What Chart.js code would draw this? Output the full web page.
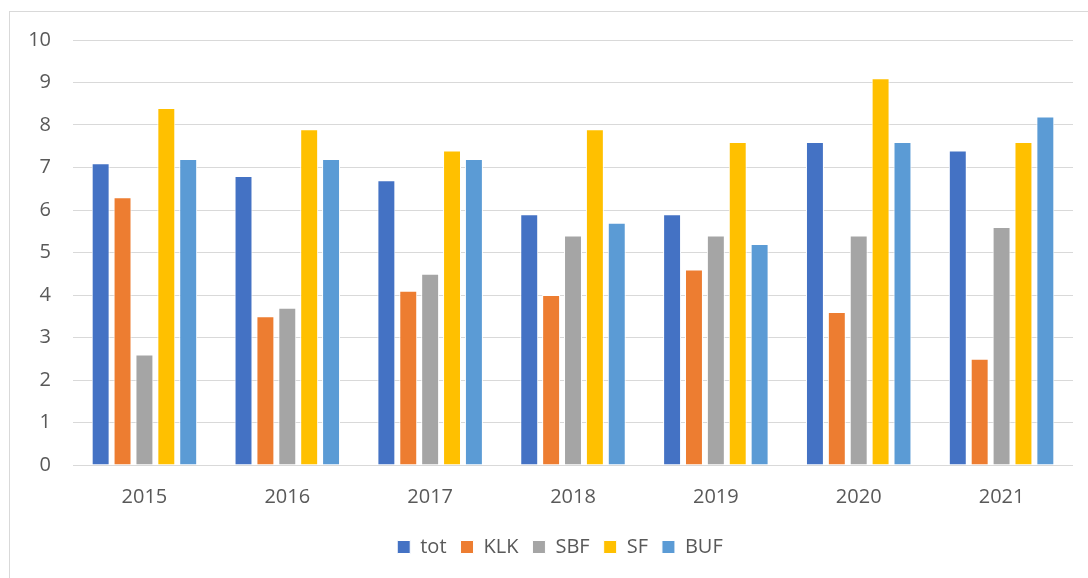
<!DOCTYPE html>
<html lang="en">
<head>
    <meta charset="UTF-8">
    <title>tot / KLK / SBF / SF / BUF</title>
    <script src="https://cdn.jsdelivr.net/npm/chart.js@4/dist/chart.umd.min.js"></script>
    <style>
        html, body {margin: 0; padding: 0; background: #fff; overflow: hidden}
        #frame {position: absolute; left: 9px; top: 11px; width: 1100px; height: 600px; border: solid 1px #d9d9d9}
        #wrap {position: absolute; left: 0; top: 0; width: 1088px; height: 578px}
    </style>
</head>
<body>
<div id="frame"></div>
<div id="wrap"><canvas id="chart"></canvas></div>
<script>

    const years = ['2015', '2016', '2017', '2018', '2019', '2020', '2021'];
    const tot = [7.1, 6.8, 6.7, 5.9, 5.9, 7.6, 7.4];
    const klk = [6.3, 3.5, 4.1, 4.0, 4.6, 3.6, 2.5];
    const sbf = [2.6, 3.7, 4.5, 5.4, 5.4, 5.4, 5.6];
    const sf = [8.4, 7.9, 7.4, 7.9, 7.6, 9.1, 7.6];
    const buf = [7.2, 7.2, 7.2, 5.7, 5.2, 7.6, 8.2];
    const yTicks = [0, 1, 2, 3, 4, 5, 6, 7, 8, 9, 10];

    const textColor = '#595959';
    const gridColor = '#d9d9d9';

    function bars(label, data, color) {
        return {
            label: label,
            data: data,
            backgroundColor: color,
            borderColor: '#ffffff',
            borderWidth: 1,
            categoryPercentage: 0.766,
            barPercentage: 0.82
        };
    }

    // nudge the legend a little right of the canvas center
    const legendShift = {
        id: 'legendShift',
        afterLayout(chart) {
            const legend = chart.legend;
            const dx = chart.width / 2 + 16 - (legend.left + legend.right) / 2;
            legend.left += dx;
            legend.right += dx;
        }
    };

    Chart.defaults.font.family = '"Open Sans", sans-serif';
    Chart.defaults.font.size = 20;
    Chart.defaults.color = textColor;

    new Chart('chart', {
        type: 'bar',
        data: {
            labels: years,
            datasets: [
                bars('tot', tot, '#4472C4'),
                bars('KLK', klk, '#ED7D31'),
                bars('SBF', sbf, '#A5A5A5'),
                bars('SF', sf, '#FFC000'),
                bars('BUF', buf, '#5B9BD5')
            ]
        },
        plugins: [legendShift],
        options: {
            responsive: true,
            maintainAspectRatio: false,
            animation: false,
            layout: {padding: {top: 40, right: 15, bottom: 11, left: 0}},
            plugins: {
                tooltip: {enabled: false},
                legend: {
                    position: 'bottom',
                    labels: {boxWidth: 13, boxHeight: 13, padding: 14, color: textColor}
                }
            },
            scales: {
                x: {
                    grid: {display: false},
                    border: {display: false},
                    ticks: {padding: 12, color: textColor},
                    afterFit: function (scale) { scale.height = 58; }
                },
                y: {
                    min: 0,
                    max: 10,
                    afterBuildTicks: function (scale) {
                        scale.ticks = yTicks.map(v => ({value: v}));
                    },
                    grid: {color: gridColor, lineWidth: 1, drawTicks: false},
                    border: {display: false},
                    ticks: {padding: 22, color: textColor},
                    afterFit: function (scale) { scale.width = 73; }
                }
            }
        }
    });

</script>
</body>
</html>
